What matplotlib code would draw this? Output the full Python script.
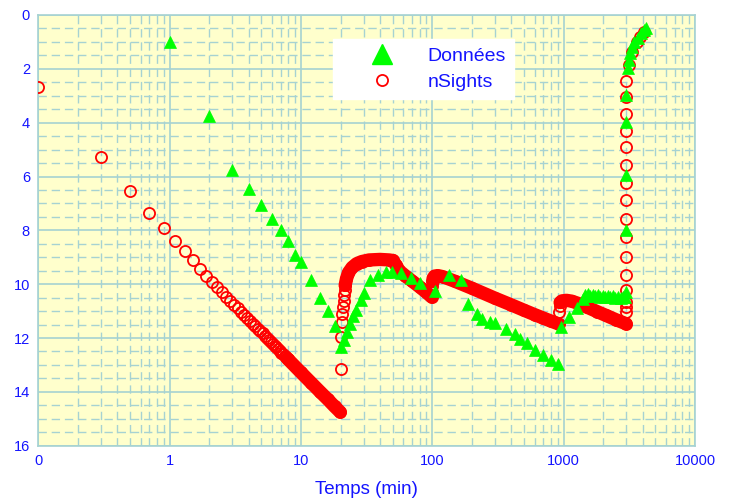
import matplotlib
matplotlib.use("Agg")
import matplotlib.pyplot as plt
from matplotlib.lines import Line2D
from matplotlib.ticker import FixedLocator, LogLocator, MultipleLocator, NullFormatter

plt.rcParams['font.family'] = ['Liberation Sans', 'DejaVu Sans']

# ---------------- data ----------------
# Observed data ("Données")
donnees_t = [1, 2, 3, 4, 5, 6, 7, 8, 9, 10, 12, 14, 16, 18,
             20, 21.3, 22.5, 23.5, 25, 26.4, 28.6, 30.4, 33.4, 38.8, 44.6, 49,
             58, 69, 80, 105,
             135, 165, 187, 220, 241, 273, 302, 363, 426, 466, 525, 610, 700, 807, 903,
             950, 1100, 1260, 1400,
             1460, 1530, 1600, 1670, 1740, 1820, 1900, 1990, 2080, 2170, 2270, 2370,
             2480, 2590, 2710, 2830, 2950,
             3000, 3000, 3000, 3000, 3000,
             3063, 3118, 3210, 3320, 3460, 3650, 3880, 4110, 4250]
donnees_y = [1.0, 3.75, 5.76, 6.47, 7.06, 7.56, 7.97, 8.38, 8.9, 9.18, 9.83, 10.5, 11.0, 11.55,
             12.35, 12.08, 11.77, 11.47, 11.17, 10.97, 10.6, 10.32, 9.85, 9.65, 9.54, 9.54,
             9.6, 9.77, 9.95, 10.27,
             9.65, 9.86, 10.74, 11.09, 11.3, 11.4, 11.46, 11.65, 11.86, 12.02, 12.18, 12.45, 12.64, 12.8, 12.97,
             11.6, 11.22, 10.9, 10.55,
             10.42, 10.36, 10.43, 10.39, 10.45, 10.41, 10.47, 10.43, 10.48, 10.44, 10.49, 10.45,
             10.5, 10.46, 10.51, 10.47, 10.47,
             10.28, 8.0, 5.95, 3.97, 2.97,
             1.98, 1.67, 1.42, 1.2, 1.01, 0.84, 0.68, 0.56, 0.5]

# nSights simulation: separate rings
rings_t = [0.1, 0.3, 0.5, 0.7, 0.9, 1.1, 1.3, 1.5, 1.7, 1.9, 2.1, 2.3, 2.5, 2.7, 2.9,
           3.1, 3.3, 3.5, 3.7, 3.9, 4.1, 4.3, 4.5, 4.7, 4.9, 5.1, 5.3, 5.5, 5.7, 5.9,
           6.1, 6.3, 6.5, 6.7, 6.9, 7.1, 7.3, 7.5, 7.7, 7.9,
           20.1, 20.3, 20.5, 20.7, 20.9, 21.1, 21.3, 21.5, 21.7,
           100.1, 100.3, 925, 932,
           3000, 3000, 3000, 3000, 3000, 3000, 3000, 3000, 3000, 3000, 3000, 3000,
           3000, 3000, 3000, 3000,
           3117, 3310, 3600, 3830, 4110]
rings_y = [2.69, 5.27, 6.53, 7.35, 7.93, 8.39, 8.77, 9.11, 9.42, 9.70, 9.91, 10.12, 10.30, 10.47, 10.62,
           10.76, 10.90, 11.02, 11.14, 11.26, 11.36, 11.47, 11.56, 11.66, 11.75, 11.83, 11.91, 11.99, 12.07, 12.14,
           12.22, 12.28, 12.35, 12.42, 12.48, 12.54, 12.60, 12.66, 12.71, 12.77,
           13.16, 11.96, 11.4, 11.09, 10.84, 10.62, 10.41, 10.22, 10.04,
           10.3, 10.05, 11.05, 10.8,
           11.03, 10.84, 10.66, 10.22, 9.67, 8.98, 8.26, 7.56, 6.88, 6.23, 5.58, 4.90,
           4.30, 3.68, 3.06, 2.45,
           1.86, 1.36, 0.99, 0.80, 0.62]

# nSights simulation: dense stretches (rings merge into a solid band)
band1_t = [7.9, 10, 12, 14, 16, 18, 19.9]
band1_y = [12.77, 13.28, 13.67, 14.0, 14.28, 14.54, 14.75]
band2_t = [21.7, 22.2, 23, 24.5, 26.5, 29, 33, 40, 47, 50, 53, 56, 62, 70, 80, 90, 99]
band2_y = [10.04, 9.8, 9.57, 9.38, 9.24, 9.16, 9.1, 9.08, 9.1, 9.12, 9.3, 9.5, 9.68, 9.88, 10.1, 10.3, 10.48]
band3_t = [100.5, 101.5, 104, 110, 120, 150, 200, 300, 400, 500, 600, 700, 800, 920]
band3_y = [9.9, 9.78, 9.7, 9.68, 9.72, 9.9, 10.15, 10.52, 10.77, 10.97, 11.13, 11.26, 11.37, 11.48]
band4_t = [940, 970, 1050, 1150, 1300, 1500, 1800, 2100, 2500, 2990]
band4_y = [10.68, 10.62, 10.6, 10.63, 10.72, 10.85, 11.02, 11.16, 11.32, 11.47]

xtick_vals = [0.1, 1, 10, 100, 1000, 10000]
xtick_labels = ['0', '1', '10', '100', '1000', '10000']
ytick_vals = [0, 2, 4, 6, 8, 10, 12, 14, 16]

# ---------------- figure ----------------
BLUE = '#1414FF'
GRID = '#A6D2D2'
RED = '#FF0000'
GREEN = '#00FF00'

fig = plt.figure(figsize=(7.3, 5.0), dpi=100)
ax = fig.add_axes([38.3 / 730, 1 - 445.7 / 500, (695 - 38.3) / 730, (445.7 - 15) / 500])
ax.set_facecolor('#FFFFCC')
ax.set_xscale('log')
ax.set_xlim(0.1, 10000)
ax.set_ylim(16, 0)

ax.set_xticks(xtick_vals)
ax.set_xticklabels(xtick_labels)
ax.xaxis.set_minor_locator(LogLocator(base=10, subs=range(2, 10)))
ax.xaxis.set_minor_formatter(NullFormatter())
ax.set_yticks(ytick_vals)
ax.yaxis.set_minor_locator(MultipleLocator(0.5))

ax.grid(which='major', color=GRID, lw=1.2, ls='-', zorder=0)
ax.grid(which='minor', color=GRID, lw=1.0, ls=(0, (6, 3.5)), zorder=0)
ax.set_axisbelow(True)
ax.tick_params(which='both', length=0, labelcolor=BLUE, labelsize=10.5, pad=6)
for s in ax.spines.values():
    s.set_color(GRID)
    s.set_linewidth(1.2)

ms_c = 8.0
mew_c = 1.3
for bt, by in [(band1_t, band1_y), (band2_t, band2_y), (band3_t, band3_y), (band4_t, band4_y)]:
    ax.plot(bt, by, color=RED, lw=ms_c + mew_c + 0.3, solid_capstyle='round',
            solid_joinstyle='round', zorder=3)
    ax.plot(bt, by, ls='none', marker='o', mfc='none', mec=RED, ms=ms_c, mew=mew_c, zorder=3)
ax.plot(rings_t, rings_y, ls='none', marker='o', mfc='none', mec=RED, ms=ms_c, mew=mew_c, zorder=3)

ax.plot(donnees_t, donnees_y, ls='none', marker='^', color=GREEN, mec=GREEN, ms=8.3, mew=0.5, zorder=4)

ax.set_xlabel('Temps (min)', color=BLUE, fontsize=13.5, labelpad=9)

handles = [Line2D([], [], ls='none', marker='^', color=GREEN, ms=14.5),
           Line2D([], [], ls='none', marker='o', mfc='none', mec=RED, ms=ms_c, mew=mew_c)]
leg = ax.legend(handles, ['Données', 'nSights'], loc='upper left',
                bbox_to_anchor=(0.449, 0.9436), borderaxespad=0, frameon=True,
                fancybox=False, facecolor='white', edgecolor='white', framealpha=1,
                fontsize=14, borderpad=0.4, labelspacing=0.44,
                handlelength=4.2, handletextpad=0.25)
for t in leg.get_texts():
    t.set_color(BLUE)
leg.set_zorder(10)

fig.savefig('out.png', dpi=100)
